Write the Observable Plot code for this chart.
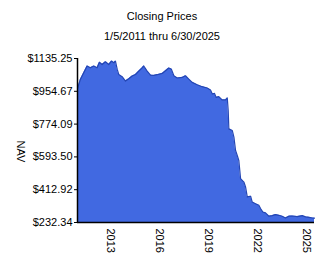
<!DOCTYPE html>
<html>
<head>
<meta charset="utf-8">
<script src="https://cdn.jsdelivr.net/npm/d3@7"></script>
<script src="https://cdn.jsdelivr.net/npm/@observablehq/plot@0.6"></script>
<style>
  body { margin: 0; background: #fff; font-family: "Liberation Sans", Arial, sans-serif; }
  #wrap { width: 324px; height: 267px; position: relative; overflow: hidden; }
  .t { width: 324px; text-align: center; font-size: 11px; color: #000; height: 20px; line-height: 20px; }
  #title { padding-top: 6px; }
</style>
</head>
<body>
<div id="wrap">
  <div class="t" id="title">Closing Prices</div>
  <div class="t" id="subtitle">1/5/2011 thru 6/30/2025</div>
  <div id="chart"></div>
</div>
<script>
const dates = [
  "2011-01-05","2011-03-10","2011-05-24","2011-08-08","2011-10-20",
  "2012-01-04","2012-03-17","2012-05-09","2012-07-08","2012-09-20","2012-12-02",
  "2013-02-02","2013-03-25","2013-05-01","2013-06-10","2013-07-14","2013-09-28","2013-12-11",
  "2014-02-23","2014-05-10","2014-07-23","2014-10-05","2014-12-19",
  "2015-01-23","2015-04-09","2015-06-22","2015-09-03","2015-11-17",
  "2016-03-10","2016-05-22","2016-08-04","2016-09-28","2016-11-25",
  "2017-02-08","2017-05-30","2017-08-11","2017-10-24",
  "2018-01-08","2018-04-30","2018-08-19","2018-12-09",
  "2019-02-21","2019-04-01","2019-05-21","2019-06-28","2019-08-25","2019-11-08",
  "2020-01-23","2020-03-01","2020-03-22","2020-04-05","2020-06-20","2020-07-27",
  "2020-09-02","2020-10-10","2020-11-14","2020-12-23",
  "2021-03-07","2021-04-13","2021-05-21","2021-08-04","2021-09-09","2021-11-21",
  "2022-02-04","2022-03-14","2022-05-04","2022-07-03","2022-09-16","2022-11-28",
  "2023-02-12","2023-04-27","2023-07-10","2023-09-22","2023-12-05",
  "2024-02-19","2024-06-10","2024-10-01","2024-12-13",
  "2025-02-28","2025-05-12","2025-06-30"
];
const navValues = [
  968,1020,1057,1094,1084,
  1094,1084,1115,1102,1117,1102,
  1121,1112,1121,1075,1047,1035,1011,
  1024,1039,1047,1066,1084,
  1094,1066,1044,1042,1046,
  1053,1068,1083,1077,1040,
  1028,1031,1040,1022,
  1004,991,980,973,
  962,940,943,921,925,907,
  907,918,848,748,739,702,
  629,601,574,474,
  455,428,373,377,345,336,
  327,309,290,285,267,270,
  276,272,267,257,267,
  268,265,270,263,
  261,257,256
];
const yTicks = [232.34, 412.92, 593.50, 774.09, 954.67, 1135.25];
const xTickYears = [2013, 2016, 2019, 2022, 2025];
const titleText = "Closing Prices";
const yLabel = "NAV";

const data = dates.map((d, i) => ({date: new Date(d + "T00:00:00Z"), nav: navValues[i]}));
const xTicks = xTickYears.map(y => new Date(Date.UTC(y, 0, 1)));

const chart = Plot.plot({
  width: 324,
  height: 221,
  marginLeft: 77,
  marginRight: 10,
  marginTop: 12,
  marginBottom: 45,
  style: {fontFamily: "'Liberation Sans', Arial, sans-serif", fontSize: "11px", color: "#000", background: "#fff"},
  x: {type: "utc", domain: [data[0].date, data[data.length - 1].date]},
  y: {domain: [yTicks[0], yTicks[yTicks.length - 1]]},
  marks: [
    Plot.areaY(data, {x: "date", y1: yTicks[0], y2: "nav", fill: "#4169e1"}),
    Plot.lineY(data, {x: "date", y: "nav", stroke: "#2446b4", strokeWidth: 1.2}),
    Plot.axisY({ticks: yTicks, tickFormat: d => "$" + d.toFixed(2), tickSize: 3, tickPadding: 2, label: null, fontSize: 11}),
    Plot.axisX({ticks: xTicks, tickFormat: d3.utcFormat("%Y"), tickSize: 0, tickRotate: 90, tickPadding: 6, label: null, fontSize: 11}),
    Plot.ruleX([data[0].date], {stroke: "#000", strokeWidth: 1.5}),
    Plot.ruleY([yTicks[0]], {stroke: "#000", strokeWidth: 1.5}),
    Plot.text([yLabel], {frameAnchor: "left", dx: -57, rotate: 90, fontSize: 11, fill: "#000"})
  ]
});
document.getElementById("chart").appendChild(chart);
</script>
</body>
</html>
